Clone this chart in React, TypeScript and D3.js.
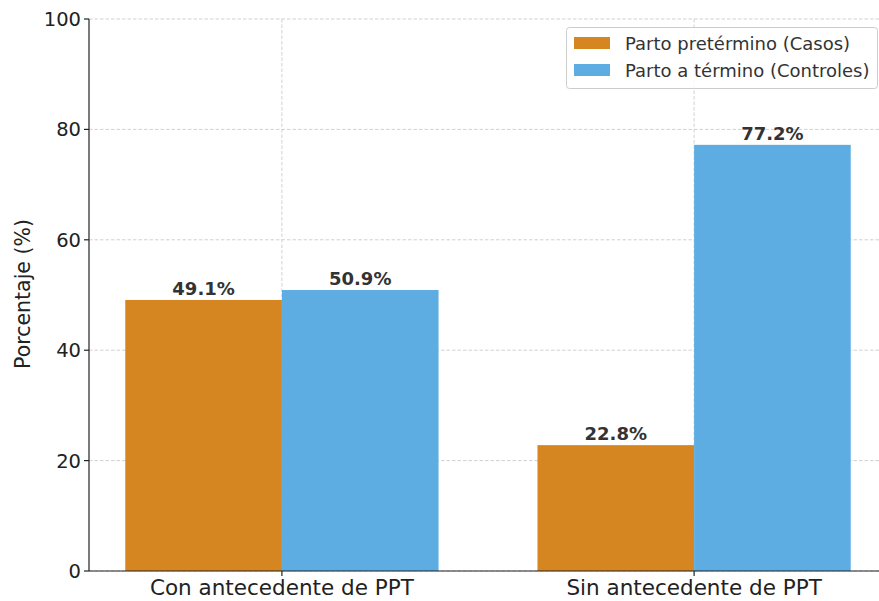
import React from "react";
import * as d3 from "d3";

const categories = ["Con antecedente de PPT", "Sin antecedente de PPT"];
const seriesNames = ["Parto pretérmino (Casos)", "Parto a término (Controles)"];
const casos = [49.1, 22.8];
const controles = [50.9, 77.2];
const yTicks = [0, 20, 40, 60, 80, 100];
const colors = ["#D68620", "#5DADE2"];

const W = 879;
const H = 601;
const FONT = "DejaVu Sans, sans-serif";

export default function App() {
  const y = d3.scaleLinear().domain([0, 100]).range([571, 19]);
  const x = d3.scaleLinear().domain([-0.468, 1.468]).range([89, 887]);
  const barW = 0.38;
  const series = [casos, controles];

  return (
    <svg width={W} height={H} style={{ position: "absolute", left: 0, top: 0, background: "#fff" }}>
      {/* grid */}
      {yTicks.map((t) => (
        <line key={"gy" + t} x1={89} x2={W} y1={y(t)} y2={y(t)} stroke="#ccc" strokeWidth={0.9} strokeDasharray="3.5,2" />
      ))}
      {categories.map((c, i) => (
        <line key={"gx" + i} x1={x(i)} x2={x(i)} y1={19} y2={571} stroke="#ccc" strokeWidth={0.9} strokeDasharray="3.5,2" />
      ))}
      {/* bars */}
      {series.map((vals, s) =>
        vals.map((v, i) => {
          const x0 = s === 0 ? x(i - barW) : x(i);
          const x1 = s === 0 ? x(i) : x(i + barW);
          return (
            <g key={s + "-" + i}>
              <rect x={x0} y={y(v)} width={x1 - x0} height={y(0) - y(v)} fill={colors[s]} />
              <text x={(x0 + x1) / 2} y={y(v) - 5} textAnchor="middle" fontFamily={FONT} fontWeight="bold" fontSize={18} fill="#333">
                {v.toFixed(1)}%
              </text>
            </g>
          );
        })
      )}
      {/* axes */}
      <line x1={89} x2={89} y1={19} y2={571} stroke="#222" strokeWidth={1.2} />
      <line x1={89} x2={W} y1={571} y2={571} stroke="#222" strokeWidth={1.2} />
      {yTicks.map((t) => (
        <g key={"yt" + t}>
          <line x1={84} x2={89} y1={y(t)} y2={y(t)} stroke="#222" strokeWidth={1.2} />
          <text x={81} y={y(t) + 7} textAnchor="end" fontFamily={FONT} fontSize={19.5} fill="#222">
            {t}
          </text>
        </g>
      ))}
      {categories.map((c, i) => (
        <g key={"xt" + i}>
          <line x1={x(i)} x2={x(i)} y1={571} y2={576} stroke="#222" strokeWidth={1.2} />
          <text x={x(i)} y={595} textAnchor="middle" fontFamily={FONT} fontSize={21.5} fill="#222">
            {c}
          </text>
        </g>
      ))}
      <text transform={`translate(30,${y(50) - 1}) rotate(-90)`} textAnchor="middle" fontFamily={FONT} fontSize={20.5} fill="#222">
        Porcentaje (%)
      </text>
      {/* legend */}
      <rect x={566.5} y={27.5} width={311} height={61} rx={3} fill="#fff" fillOpacity={0.85} stroke="#ccc" />
      {seriesNames.map((n, i) => (
        <g key={"lg" + i}>
          <rect x={574} y={37 + i * 27} width={36} height={12} fill={colors[i]} />
          <text x={625} y={50 + i * 27} fontFamily={FONT} fontSize={18} fill="#333">
            {n}
          </text>
        </g>
      ))}
    </svg>
  );
}
